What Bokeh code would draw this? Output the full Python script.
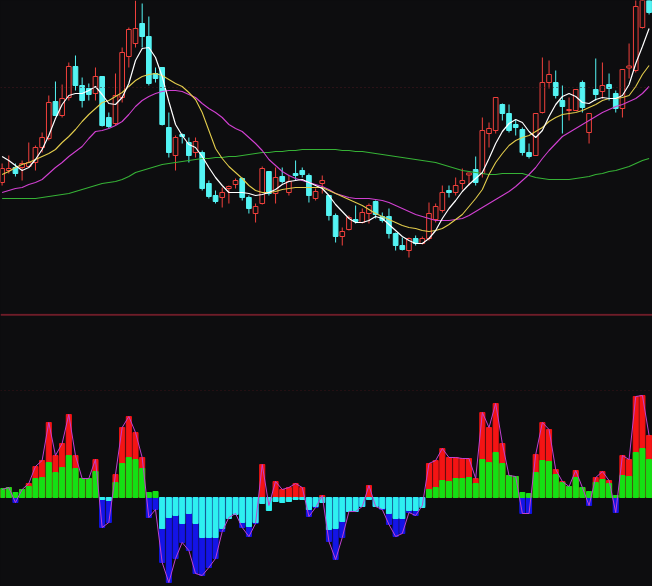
from bokeh.plotting import figure
from bokeh.layouts import column
from bokeh.models import Span, Range1d, ColumnDataSource
from bokeh.embed import file_html
from bokeh.resources import INLINE

BG = "#0d0d0f"
UP = "#f0403c"
DOWN = "#54f4f4"

# ---- candlestick data (one entry per trading day) ----
open_ = [11.8, 13.0, 13.3, 13.3, 13.4, 13.8, 15.3, 16.2, 19.9, 18.5,
         20.3, 23.4, 21.5, 21.2, 20.7, 22.4, 18.3, 17.7, 20.3, 24.4,
         25.7, 27.7, 26.4, 22.7, 23.3, 17.3, 14.5, 16.6, 15.8, 14.8,
         14.8, 11.7, 10.5, 10.3, 11.2, 11.6, 12.2, 10.3, 8.7, 9.7,
         12.9, 10.7, 12.4, 10.8, 12.7, 13.0, 12.5, 10.2, 11.7, 10.5,
         8.5, 6.4, 7.1, 8.1, 7.8, 8.7, 9.9, 8.4, 8.4, 6.7,
         5.5, 5.0, 6.2, 5.7, 6.2, 8.1, 9.0, 11.0, 10.8, 11.7,
         12.6, 13.1, 12.7, 16.7, 17.0, 19.6, 18.7, 17.6, 17.1, 14.8,
         14.5, 18.8, 21.8, 21.8, 20.0, 19.0, 19.0, 21.8, 16.8, 21.1,
         20.9, 21.6, 20.7, 19.2, 23.3, 23.0, 27.3, 30.6]
high = [13.7, 14.5, 13.7, 14.0, 15.8, 15.5, 16.8, 20.5, 21.9, 21.6,
        23.8, 24.5, 22.3, 21.7, 23.3, 22.4, 18.8, 22.7, 25.3, 27.3,
        30.0, 29.7, 28.4, 23.3, 23.3, 18.8, 16.5, 16.7, 16.3, 16.3,
        15.0, 12.0, 11.0, 11.3, 11.5, 12.2, 12.3, 10.5, 9.7, 13.4,
        12.9, 13.3, 13.3, 12.5, 14.0, 13.3, 12.7, 11.2, 12.5, 10.5,
        8.7, 7.3, 8.5, 9.5, 9.2, 9.7, 10.0, 8.8, 9.2, 6.8,
        6.3, 6.3, 6.5, 6.4, 9.8, 9.7, 11.5, 11.5, 12.3, 13.2,
        12.7, 14.4, 18.3, 17.8, 20.3, 19.7, 19.6, 18.1, 17.3, 15.7,
        18.7, 24.3, 24.0, 23.0, 21.5, 20.3, 21.1, 22.0, 18.7, 24.2,
        23.8, 22.7, 21.0, 23.1, 25.7, 30.2, 31.5, 31.5]
low = [11.5, 12.7, 12.4, 12.0, 13.3, 13.0, 14.8, 16.0, 18.5, 18.3,
       20.0, 21.0, 19.3, 20.0, 20.0, 17.4, 17.2, 17.5, 19.8, 23.3,
       25.3, 25.3, 21.5, 21.8, 17.5, 14.3, 13.0, 15.7, 13.8, 14.3,
       11.0, 10.2, 9.7, 9.3, 9.7, 11.2, 10.0, 8.7, 7.8, 9.6,
       10.5, 9.7, 11.7, 10.5, 12.0, 12.3, 9.8, 10.0, 10.7, 8.0,
       5.8, 5.5, 7.0, 7.7, 7.7, 7.7, 8.2, 7.8, 6.2, 5.0,
       5.0, 4.3, 5.5, 5.6, 6.0, 7.8, 8.8, 10.3, 10.5, 11.1,
       11.5, 11.5, 12.3, 15.3, 16.7, 18.0, 16.8, 16.5, 14.5, 14.2,
       14.5, 18.7, 21.2, 20.2, 16.7, 18.0, 19.0, 18.8, 15.7, 20.0,
       20.2, 20.0, 18.8, 18.3, 22.2, 22.8, 27.2, 28.6]
close = [13.2, 13.2, 12.7, 13.7, 13.8, 15.3, 16.3, 19.8, 18.5, 20.2,
         23.4, 21.5, 20.0, 20.6, 22.4, 17.5, 17.4, 20.5, 24.8, 27.1,
         27.2, 26.4, 21.7, 22.2, 17.6, 14.8, 16.3, 16.4, 14.5, 15.9,
         11.2, 10.4, 9.9, 10.8, 11.4, 12.0, 10.3, 9.2, 9.4, 13.2,
         10.7, 12.3, 11.9, 11.9, 12.5, 12.6, 10.5, 10.9, 12.0, 8.5,
         6.4, 6.9, 8.3, 7.9, 8.8, 9.5, 8.6, 8.0, 6.7, 5.5,
         5.1, 6.2, 5.7, 6.2, 8.7, 9.4, 10.8, 10.8, 11.5, 12.0,
         12.7, 11.8, 17.0, 17.2, 20.3, 18.7, 17.0, 17.3, 14.8, 14.4,
         18.7, 21.8, 22.6, 20.5, 19.4, 19.1, 21.1, 19.3, 18.7, 20.6,
         21.5, 21.2, 19.2, 23.1, 23.4, 29.4, 30.6, 28.8]

# ---- moving averages ----
ma5 = [14.4, 14.0, 13.5, 13.0, 13.3, 14.1, 15.1, 16.5, 18.2, 19.6,
       20.5, 20.7, 20.7, 21.0, 21.4, 20.6, 19.7, 19.6, 20.3, 21.7,
       24.0, 25.2, 25.3, 24.3, 22.4, 19.9, 17.6, 16.5, 15.6, 15.3,
       14.4, 13.3, 12.3, 11.5, 10.8, 10.8, 10.8, 10.7, 10.5, 10.6,
       10.8, 11.1, 11.6, 11.9, 12.0, 12.1, 11.8, 11.5, 11.2, 10.5,
       9.6, 8.9, 8.2, 7.8, 7.8, 8.0, 8.4, 8.2, 7.6, 7.0,
       6.4, 6.0, 5.7, 5.7, 6.2, 7.0, 8.2, 9.2, 10.0, 10.9,
       11.6, 12.2, 12.8, 14.2, 15.7, 16.9, 17.7, 18.1, 17.8, 16.9,
       16.3, 17.0, 18.4, 19.6, 20.4, 20.7, 20.4, 19.8, 19.7, 20.1,
       20.3, 20.2, 20.2, 20.5, 21.6, 23.7, 25.4, 27.2]
ma10 = [12.6, 12.9, 13.3, 13.6, 13.8, 14.1, 14.4, 14.7, 15.1, 15.8,
        16.4, 17.1, 17.9, 18.6, 19.2, 19.8, 20.0, 20.4, 20.8, 21.4,
        22.0, 22.4, 22.6, 22.7, 22.5, 22.1, 21.7, 21.4, 20.8, 20.1,
        18.8, 17.0, 15.2, 14.2, 13.4, 12.8, 12.2, 11.5, 11.0, 10.8,
        10.8, 10.9, 11.1, 11.2, 11.3, 11.3, 11.3, 11.3, 11.3, 11.0,
        10.7, 10.4, 10.1, 9.8, 9.5, 9.1, 8.7, 8.4, 8.1, 7.8,
        7.5, 7.3, 7.2, 7.0, 6.9, 7.0, 7.2, 7.6, 8.1, 8.6,
        9.4, 10.2, 11.1, 12.6, 13.8, 14.7, 15.5, 16.0, 16.3, 16.5,
        16.9, 17.3, 17.9, 18.3, 18.6, 18.7, 18.8, 19.0, 19.3, 19.6,
        20.0, 20.2, 20.2, 20.3, 20.5, 21.4, 22.6, 23.5]
ma20 = [10.8, 11.0, 11.2, 11.3, 11.6, 11.8, 12.1, 12.7, 13.3, 13.8,
        14.4, 14.9, 15.4, 16.2, 16.9, 17.0, 17.2, 17.5, 17.9, 18.6,
        19.4, 20.0, 20.4, 20.7, 20.9, 21.0, 21.0, 20.9, 20.6, 20.3,
        19.7, 19.2, 18.8, 18.3, 17.6, 17.2, 16.9, 16.3, 15.7, 15.0,
        14.1, 13.5, 12.9, 12.5, 12.2, 12.0, 11.8, 11.6, 11.4, 11.1,
        10.7, 10.5, 10.3, 10.2, 10.2, 10.2, 10.1, 10.0, 9.8, 9.5,
        9.2, 8.9, 8.6, 8.4, 8.2, 8.0, 8.0, 8.0, 8.1, 8.2,
        8.5, 8.9, 9.3, 9.7, 10.1, 10.5, 10.9, 11.4, 12.0, 12.6,
        13.3, 14.2, 15.0, 15.7, 16.4, 16.8, 17.2, 17.6, 18.0, 18.4,
        18.8, 19.1, 19.4, 19.6, 19.9, 20.2, 20.7, 21.4]
ma60 = [10.2, 10.2, 10.2, 10.2, 10.2, 10.2, 10.3, 10.4, 10.5, 10.6,
        10.7, 10.9, 11.1, 11.3, 11.5, 11.7, 11.8, 11.9, 12.1, 12.4,
        12.8, 13.0, 13.2, 13.4, 13.6, 13.7, 13.8, 13.9, 14.0, 14.1,
        14.2, 14.2, 14.3, 14.3, 14.4, 14.4, 14.5, 14.6, 14.7, 14.8,
        14.8, 14.9, 14.9, 15.0, 15.0, 15.1, 15.1, 15.1, 15.1, 15.1,
        15.1, 15.0, 15.0, 14.9, 14.9, 14.8, 14.7, 14.6, 14.5, 14.4,
        14.3, 14.2, 14.1, 14.0, 13.9, 13.8, 13.6, 13.4, 13.2, 13.0,
        12.9, 12.8, 12.7, 12.6, 12.6, 12.7, 12.7, 12.7, 12.7, 12.5,
        12.3, 12.2, 12.1, 12.1, 12.1, 12.1, 12.2, 12.3, 12.4, 12.6,
        12.7, 12.9, 13.0, 13.2, 13.4, 13.7, 14.0, 14.2]

# ---- indicator histogram: two series ----
ind_a = [0.9, 1.0, 0.5, 0.8, 1.1, 1.9, 2.0, 3.5, 2.5, 3.0,
         4.2, 2.9, 1.9, 1.9, 2.6, -0.2, -0.3, 1.5, 3.4, 4.0,
         3.8, 2.9, 0.5, 0.6, -3.1, -2.0, -1.8, -2.6, -1.6, -2.6,
         -4.0, -4.0, -4.0, -3.1, -2.1, -1.7, -2.5, -2.9, -2.5, -0.6,
         -1.3, -0.4, -0.5, -0.4, -0.2, -0.2, -1.2, -0.9, -0.5, -3.2,
         -3.1, -2.4, -1.4, -1.4, -0.9, -0.2, -0.9, -1.1, -1.6, -2.1,
         -2.1, -1.3, -1.3, -1.0, 0.8, 1.0, 1.7, 1.6, 1.9, 1.9,
         2.0, 1.4, 3.8, 3.5, 4.5, 3.4, 2.2, 2.1, 0.5, 0.4,
         2.5, 3.7, 3.6, 2.3, 1.5, 1.1, 2.0, 1.0, 0.6, 1.5,
         1.8, 1.4, 0.2, 2.2, 2.1, 4.5, 4.9, 3.8]
ind_b = [0.8, 1.0, -0.5, 0.8, 1.4, 3.1, 3.7, 7.5, 4.2, 5.4,
         8.3, 4.2, 1.9, 1.9, 3.8, -3.0, -2.5, 2.3, 7.0, 8.1,
         6.5, 4.0, -2.0, -1.2, -6.5, -8.5, -6.1, -4.5, -5.3, -7.6,
         -7.8, -7.0, -6.1, -3.4, -2.0, -1.6, -3.0, -3.9, -2.6, 3.3,
         -0.8, 1.6, 0.8, 1.0, 1.4, 1.0, -1.9, -1.0, 0.2, -4.4,
         -6.2, -4.0, -1.4, -1.4, -0.9, 1.2, -0.9, -1.2, -2.7, -3.9,
         -3.6, -1.5, -1.8, -0.8, 3.4, 3.7, 4.9, 4.0, 4.0, 3.9,
         3.9, 1.9, 8.5, 7.0, 9.4, 5.4, 2.2, 2.1, -1.6, -1.6,
         4.3, 7.5, 6.8, 2.8, 1.6, 1.1, 2.7, 1.0, -0.8, 2.0,
         2.6, 1.7, -1.5, 4.2, 3.8, 10.1, 10.2, 6.2]

idx = list(range(len(open_)))

x_rng = Range1d(-0.24, 97.51)

# ================= price panel =================
p1 = figure(width=652, height=313, x_range=x_rng, y_range=Range1d(-1.3, 30.0),
            output_backend="svg", toolbar_location=None,
            x_axis_location=None, y_axis_location=None,
            background_fill_color=BG, border_fill_color=BG, min_border=0)
p1.grid.visible = False
p1.outline_line_color = None

p1.add_layout(Span(location=21.3, dimension="width", line_color="#4a1820",
                   line_width=1, line_dash="1 3"))

is_up = [c >= o for o, c in zip(open_, close)]
cols = [UP if u else DOWN for u in is_up]
src = ColumnDataSource(dict(
    x=idx, high=high, low=low,
    top=[max(o, c) + (0.05 if abs(o - c) < 0.1 else 0) for o, c in zip(open_, close)],
    bottom=[min(o, c) - (0.05 if abs(o - c) < 0.1 else 0) for o, c in zip(open_, close)],
    color=cols,
    fill=[BG if u else DOWN for u in is_up],
))
p1.segment(x0="x", y0="high", x1="x", y1="low", color="color", line_width=1, source=src)
p1.vbar(x="x", width=0.7, top="top", bottom="bottom", fill_color="fill",
        line_color="color", line_width=1, source=src)

p1.line(idx, ma60, color="#36b236", line_width=1.1)
p1.line(idx, ma20, color="#d040d0", line_width=1.1)
p1.line(idx, ma10, color="#e2cc4c", line_width=1.1)
p1.line(idx, ma5, color="#ffffff", line_width=1.2)

# ================= indicator panel =================
p2 = figure(width=652, height=273, x_range=x_rng, y_range=Range1d(-8.9, 18.4),
            output_backend="svg", toolbar_location=None,
            x_axis_location=None, y_axis_location=None,
            background_fill_color=BG, border_fill_color=BG, min_border=0)
p2.grid.visible = False
p2.outline_line_color = None

p2.add_layout(Span(location=18.27, dimension="width", line_color="#6e1c28", line_width=2))
p2.add_layout(Span(location=10.7, dimension="width", line_color="#3a1418",
                   line_width=1, line_dash="1 3"))

p2.vbar(x=idx, width=0.76, top=ind_b, bottom=0,
        color=["#f41414" if b > 0 else "#1414e6" for b in ind_b])
p2.vbar(x=idx, width=0.76, top=ind_a, bottom=0,
        color=["#14e014" if a > 0 else "#2ef0f0" for a in ind_a])
p2.line(idx, ind_b, color="#c040d0", line_width=1)

layout = column(p1, p2, spacing=0, styles={"background-color": BG})

html = file_html(layout, INLINE)
html = html.replace("<head>", "<head><style>body{background:%s;}</style>" % BG, 1)
open("out.html", "w").write(html)
